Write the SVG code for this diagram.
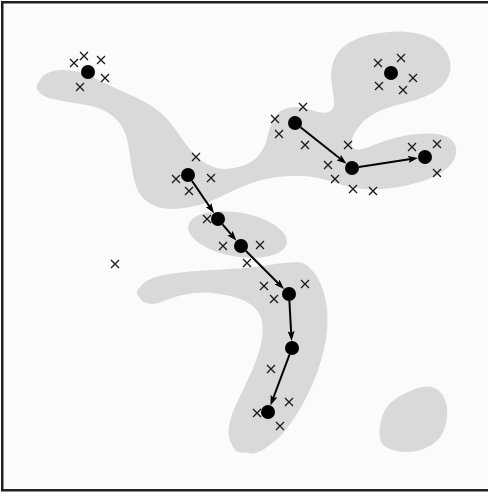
<svg xmlns="http://www.w3.org/2000/svg" width="488" height="493" viewBox="0 0 488 493">
<style>
.blob{fill:#d9d9d9;stroke:none}
.node{fill:#000}
.edge{stroke:#000;stroke-width:2;fill:none}
.x{stroke:#1a1a1a;stroke-width:1.3;fill:none}
</style>
<defs>
<marker id="ah" viewBox="0 0 10 7" refX="6" refY="3.5" markerWidth="10" markerHeight="7" markerUnits="userSpaceOnUse" orient="auto">
<path d="M0,0 L10,3.5 L0,7 L2,3.5 Z" fill="#000"/>
</marker>
<path id="x" d="M-4,-4L4,4M4,-4L-4,4"/>
</defs>
<rect x="2.25" y="2.25" width="487" height="488" fill="#fbfbfb" stroke="#231f20" stroke-width="2.5"/>
<g id="regions">
<path id="regionA" class="blob" d="M39.5,92.5 Q34,88 39,81.5 Q42,75 50,72 Q58,69 70.5,70.5 Q83,72 96.5,79 Q110,86 125,92.5 Q140,99 150,105 Q160,111 167.5,119.5 Q175,128 181.5,138 Q188,148 195,155 Q202,162 210,165.5 Q218,169 225,169 Q232,169 242,166 Q252,163 258.5,155.5 Q265,148 267.5,136.5 Q270,125 275,117 Q280,109 290,107.5 Q300,106 311,110 Q322,114 328.5,112 Q335,110 334,101 Q333,92 331.5,81 Q330,70 334,60 Q338,50 348,43.5 Q358,37 373,34 Q388,31 401.5,31.5 Q415,32 426,36 Q437,40 443.5,48 Q450,56 450.5,64.5 Q451,73 446,81 Q441,89 429.5,94.5 Q418,100 403,103.5 Q388,107 377.5,112 Q367,117 360.5,124.5 Q354,132 352,139 Q350,146 354,148.5 Q358,151 365.5,148 Q373,145 385,141 Q397,137 408.5,135 Q420,133 431.5,133.5 Q443,134 449,138 Q455,142 456,148 Q457,154 453.5,160.5 Q450,167 441.5,172.5 Q433,178 420,182 Q407,186 392,188 Q377,190 363.5,189 Q350,188 336,183 Q322,178 309.5,176.5 Q297,175 282.5,176.5 Q268,178 258,181 Q248,184 239,188 Q230,192 219,197.5 Q208,203 193,206.5 Q178,210 165.5,208.5 Q153,207 145,200 Q137,193 134,179 Q131,165 129.5,152.5 Q128,140 124,130.5 Q120,121 110,114 Q100,107 83.5,104.5 Q67,102 55,99.5 Q43,97 39.5,92.5 Z"/>
<ellipse id="regionB" class="blob" cx="237.5" cy="234.5" rx="50" ry="22" transform="rotate(10 237.5 234.5)"/>
<path id="regionC" class="blob" d="M139,297 Q134,292 141,286 Q145,280 157.5,276.5 Q170,273 190,271.5 Q210,270 230,269 Q250,268 265,265.5 Q280,263 291,262.5 Q304,260 310,268.5 Q318,275 323,290 Q328,305 327.5,322.5 Q327,340 321.5,359 Q316,378 307.5,395 Q299,412 289.5,425 Q280,438 269,445.5 Q256,456 247.5,452.5 Q234,454 232,444.5 Q227,437 229,426 Q231,415 237,402.5 Q243,390 250,375 Q257,360 260.5,346 Q264,332 262,321.5 Q260,311 251.5,305 Q243,299 230.5,296 Q218,293 206.5,292.5 Q195,292 182.5,295 Q170,298 162.5,301.5 Q155,305 148,303.5 Q141,302 139,297 Z"/>
<path id="regionD" class="blob" d="M380.5,440.5 Q378,433 381,420.5 Q384,408 392,401.5 Q400,395 413.5,389.5 Q427,384 435.5,388.5 Q444,393 446.5,405 Q449,417 444,430 Q439,443 424.5,448.5 Q410,454 396.5,451 Q383,448 380.5,440.5 Z"/>
</g>
<g id="points" class="x">
<use href="#x" x="74" y="63"/><use href="#x" x="84" y="56"/><use href="#x" x="101" y="60"/><use href="#x" x="105" y="78"/><use href="#x" x="80" y="87"/>
<use href="#x" x="378" y="63"/><use href="#x" x="401" y="58"/><use href="#x" x="413" y="78"/><use href="#x" x="379" y="86"/><use href="#x" x="403" y="90"/>
<use href="#x" x="303" y="107"/><use href="#x" x="275" y="119"/><use href="#x" x="279" y="134"/><use href="#x" x="305" y="145"/>
<use href="#x" x="348" y="145"/><use href="#x" x="328" y="165"/><use href="#x" x="335" y="179"/><use href="#x" x="353" y="189"/><use href="#x" x="373" y="191"/>
<use href="#x" x="412" y="147"/><use href="#x" x="437" y="144"/><use href="#x" x="437" y="173"/>
<use href="#x" x="196" y="157"/><use href="#x" x="176" y="179"/><use href="#x" x="211" y="178"/><use href="#x" x="189" y="191"/>
<use href="#x" x="207" y="219"/>
<use href="#x" x="223" y="246"/><use href="#x" x="260" y="245"/><use href="#x" x="247" y="263"/>
<use href="#x" x="264" y="286"/><use href="#x" x="274" y="299"/><use href="#x" x="305" y="284"/>
<use href="#x" x="271" y="369"/><use href="#x" x="289" y="402"/><use href="#x" x="257" y="413"/><use href="#x" x="280" y="426"/>
<use href="#x" x="115" y="264"/>
</g>
<g id="connectors" class="edge" marker-end="url(#ah)">
<line x1="300.5" y1="127.3" x2="343.4" y2="161.2"/>
<line x1="358.9" y1="167.0" x2="414.1" y2="158.6"/>
<line x1="191.9" y1="180.8" x2="211.8" y2="209.9"/>
<line x1="222.5" y1="224.3" x2="233.9" y2="237.7"/>
<line x1="246" y1="251" x2="281.2" y2="286.2"/>
<line x1="289.4" y1="301" x2="291.4" y2="337"/>
<line x1="289.5" y1="354.6" x2="271.9" y2="401.7"/>
</g>
<g id="nodes" class="node">
<circle id="n1" cx="88" cy="72" r="7"/>
<circle id="n2" cx="391" cy="73" r="7"/>
<circle id="n3" cx="295" cy="123" r="7"/>
<circle id="n4" cx="352" cy="168" r="7"/>
<circle id="n5" cx="425" cy="157" r="7"/>
<circle id="n6" cx="188" cy="175" r="7"/>
<circle id="n7" cx="218" cy="219" r="7"/>
<circle id="n8" cx="241" cy="246" r="7"/>
<circle id="n9" cx="289" cy="294" r="7"/>
<circle id="n10" cx="292" cy="348" r="7"/>
<circle id="n11" cx="268" cy="412" r="7"/>
</g>
</svg>
